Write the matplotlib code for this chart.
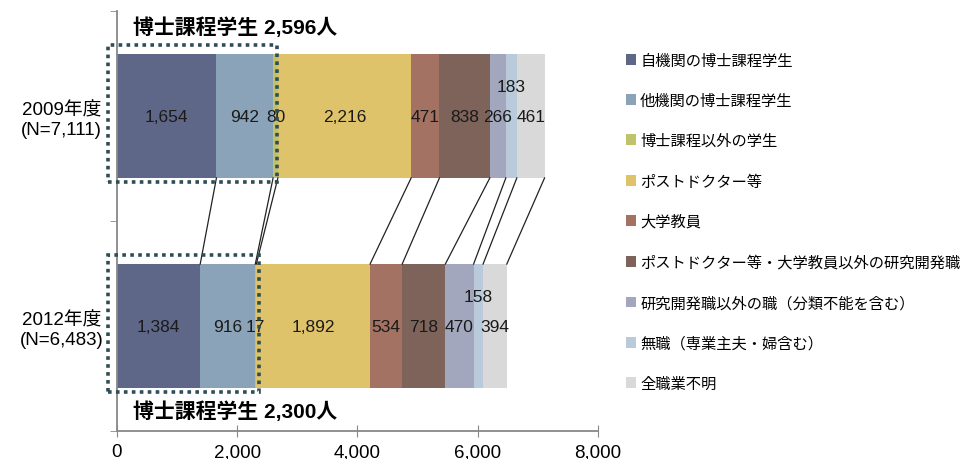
import matplotlib
matplotlib.use('Agg')
import matplotlib.pyplot as plt
from matplotlib.patches import Rectangle, Patch
import numpy as np

plt.rcParams['font.family'] = ['Liberation Sans', 'Noto Sans CJK JP']

# data
categories = ['自機関の博士課程学生', '他機関の博士課程学生', '博士課程以外の学生',
              'ポストドクター等', '大学教員', 'ポストドクター等・大学教員以外の研究開発職',
              '研究開発職以外の職（分類不能を含む）', '無職（専業主夫・婦含む）', '全職業不明']
colors = ['#5f6789', '#8ba3b8', '#bfc46a', '#dfc36a', '#a47262', '#7e635a',
          '#a3a7be', '#b9cbdb', '#d9d9d9']
years = ['2009年度\n(N=7,111)', '2012年度\n(N=6,483)']
v2009 = [1654, 942, 80, 2216, 471, 838, 266, 183, 461]
v2012 = [1384, 916, 17, 1892, 534, 718, 470, 158, 394]
phd_totals = ['2,596', '2,300']

fig = plt.figure(figsize=(9.67, 4.6), dpi=100)
ax = fig.add_axes([117/967, 28/460, 481/967, 420/460])

h = 0.59
ypos = [1, 0]
for y, vals in zip(ypos, [v2009, v2012]):
    left = 0
    for i, v in enumerate(vals):
        ax.barh(y, v, left=left, height=h, color=colors[i], edgecolor='none')
        dy = 0.14 if i == 7 else 0
        ax.text(left + v / 2, y + dy, f'{v:,}', ha='center', va='center',
                fontsize=12.5, color='#1a1a1a')
        left += v

# connector lines between the two bars
c09 = np.cumsum(v2009)
c12 = np.cumsum(v2012)
for a, b in zip(c09, c12):
    ax.plot([a, b], [1 - h/2, 0 + h/2], color='#222222', lw=0.9)

# dotted boxes around doctoral students
for y, vals in zip(ypos, [v2009, v2012]):
    phd = vals[0] + vals[1]
    rect = Rectangle((-145, y - 0.315), phd + 215, 0.655, fill=False,
                     edgecolor='#2e4d57', linestyle=(0, (1, 1.2)), lw=2.6,
                     clip_on=False, zorder=5)
    ax.add_patch(rect)

ax.text(260, 1.424, f'博士課程学生 {phd_totals[0]}人', fontsize=15,
        fontweight='bold', va='center', ha='left')
ax.text(260, -0.405, f'博士課程学生 {phd_totals[1]}人', fontsize=15,
        fontweight='bold', va='center', ha='left')

ax.set_xlim(0, 8000)
ax.set_ylim(-0.5, 1.5)
ax.set_xticks([0, 2000, 4000, 6000, 8000])
ax.set_xticklabels(['0', '2,000', '4,000', '6,000', '8,000'], fontsize=13.5)
ax.tick_params(axis='x', direction='inout', length=8, color='#888888', pad=5)
ax.set_yticks(ypos)
ax.set_yticklabels(years, fontsize=13.5, ha='center', multialignment='center')
ax.tick_params(axis='y', length=0, pad=40)
ax.set_yticks([-0.5, 0.5, 1.5], minor=True)
ax.tick_params(axis='y', which='minor', length=5, color='#888888')
for s in ['top', 'right']:
    ax.spines[s].set_visible(False)
for s in ['left', 'bottom']:
    ax.spines[s].set_color('#888888')
    ax.spines[s].set_linewidth(1.3)

handles = [Patch(facecolor=c, edgecolor='none') for c in colors]
fig.legend(handles, categories, loc='upper left', bbox_to_anchor=(618/967, 1 - 47/460),
           frameon=False, fontsize=11, handlelength=0.7, handleheight=0.7,
           handletextpad=0.25, labelspacing=1.7, borderpad=0)

fig.savefig('out.png', dpi=100)
